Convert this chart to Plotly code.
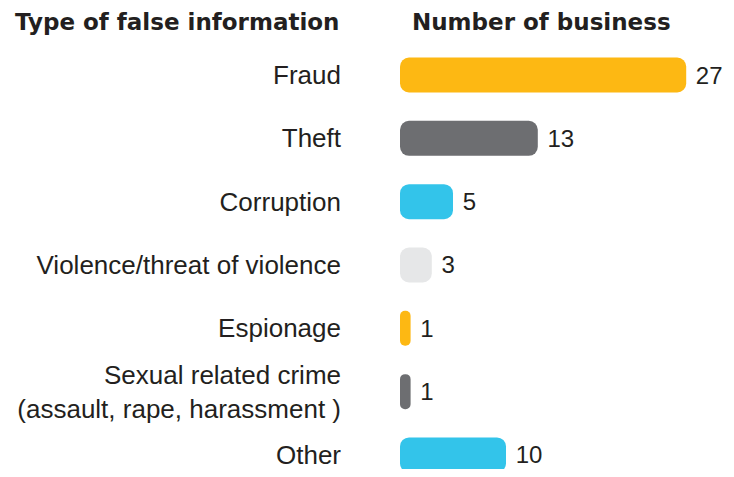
import plotly.graph_objects as go

# data
categories = [
    "Fraud",
    "Theft",
    "Corruption",
    "Violence/threat of violence",
    "Espionage",
    "Sexual related crime<br>(assault, rape, harassment )",
    "Other",
]
counts = [27, 13, 5, 3, 1, 1, 10]
bar_colors = ["#FDB813", "#6D6E71", "#33C4EA", "#E6E7E8", "#FDB813", "#6D6E71", "#33C4EA"]

TEXT_COLOR = "#231F20"
FONT = "Liberation Sans, Arial, sans-serif"
HEAD_FONT = "DejaVu Sans, sans-serif"

# the page body has an 8px margin all round; keep the figure inside the window
# so no scrollbar appears
W, H = 718, 461
LEFT = 392          # where the bars start
PX_PER_UNIT = 10.6
ROW_PX = 63.33      # distance between bar centres
FIRST_ROW_PX = 67   # centre of the first bar from the top
BAR_PX = 35

fig = go.Figure()
# an explicit base makes plotly round both ends of each bar
fig.add_trace(go.Bar(
    x=counts,
    base=[0] * len(counts),
    y=categories,
    orientation="h",
    width=BAR_PX / ROW_PX,
    marker=dict(color=bar_colors, line=dict(width=0), cornerradius=9),
    text=[f" {c}" for c in counts],
    textposition="outside",
    textfont=dict(size=24, color=TEXT_COLOR, family=FONT),
    cliponaxis=False,
    hovertemplate="%{y}: %{x}<extra></extra>",
))

top = -FIRST_ROW_PX / ROW_PX
bottom = top + H / ROW_PX

fig.update_layout(
    width=W,
    height=H,
    margin=dict(l=LEFT, r=0, t=0, b=0, autoexpand=False),
    plot_bgcolor="white",
    paper_bgcolor="white",
    showlegend=False,
    font=dict(family=FONT, color=TEXT_COLOR, size=26),
    xaxis=dict(range=[0, (W - LEFT) / PX_PER_UNIT], visible=False, fixedrange=True),
    yaxis=dict(
        type="category",
        range=[bottom, top],
        showgrid=False,
        zeroline=False,
        showline=False,
        ticks="",
        ticklabelstandoff=58,
        tickfont=dict(size=26, color=TEXT_COLOR, family=FONT),
        fixedrange=True,
    ),
    annotations=[
        dict(
            text="<b>Type of false information</b>",
            xref="paper", yref="paper",
            x=-58 / (W - LEFT), y=1 - 14 / H,
            xanchor="right", yanchor="middle",
            showarrow=False,
            font=dict(size=23, color=TEXT_COLOR, family=HEAD_FONT),
        ),
        dict(
            text="<b>Number of business</b>",
            xref="paper", yref="paper",
            x=10 / (W - LEFT), y=1 - 14 / H,
            xanchor="left", yanchor="middle",
            showarrow=False,
            font=dict(size=23, color=TEXT_COLOR, family=HEAD_FONT),
        ),
    ],
)

fig.write_html("out.html")
